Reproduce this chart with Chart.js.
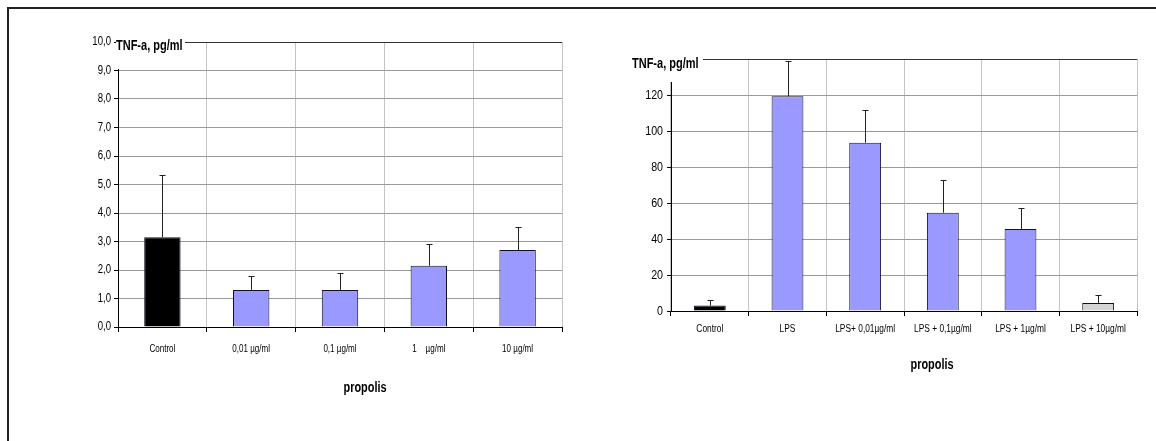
<!DOCTYPE html>
<html>
<head>
<meta charset="utf-8">
<script src="https://cdn.jsdelivr.net/npm/chart.js@4.4.0/dist/chart.umd.min.js"></script>
<style>
  body { margin: 0; background: #fff; width: 1156px; height: 441px; overflow: hidden; position: relative; }
  .frame { position: absolute; left: 7px; top: 7px; width: 1200px; height: 500px; border: 2px solid #222; box-sizing: border-box; }
  .box { position: absolute; }
</style>
</head>
<body>
<div class="frame"></div>
<div class="box" style="left:40px; top:20px; width:543px; height:390px;"><canvas id="leftChart"></canvas></div>
<div class="box" style="left:610px; top:30px; width:542px; height:350px;"><canvas id="rightChart"></canvas></div>
<script>
const FONT = "'Liberation Sans', Arial, sans-serif";

// ---- data ----
const leftLabels = ["Control", "0,01 µg/ml", "0,1 µg/ml", "1    µg/ml", "10 µg/ml"];
const leftMeans = [3.15, 1.3, 1.3, 2.15, 2.7];
const leftSD = [2.18, 0.5, 0.6, 0.75, 0.8];
const leftColors = ["#000000", "#9999ff", "#9999ff", "#9999ff", "#9999ff"];

const rightLabels = ["Control", "LPS", "LPS+ 0,01µg/ml", "LPS + 0,1µg/ml", "LPS + 1µg/ml", "LPS + 10µg/ml"];
const rightMeans = [3, 119.3, 93.5, 54.6, 45.6, 4.5];
const rightSD = [3, 19.6, 18.2, 18.2, 11.8, 4.2];
const rightColors = ["#000000", "#9999ff", "#9999ff", "#9999ff", "#9999ff", "#d4d4d4"];

const yTitle = "TNF-a, pg/ml";
const xTitle = "propolis";

// draw text squeezed horizontally (the original uses a very narrow face)
function squeeze(ctx, text, x, y, align, k) {
  ctx.save();
  ctx.translate(x, y);
  ctx.scale(k, 1);
  ctx.textAlign = align;
  ctx.fillText(text, 0, 0);
  ctx.restore();
}

//! ------------------------ plugins ------------------------
const errorBars = {
  id: "errorBars",
  afterDatasetsDraw(chart, args, opts) {
    const ctx = chart.ctx;
    const meta = chart.getDatasetMeta(0);
    const y = chart.scales.y;
    ctx.save();
    ctx.strokeStyle = "#222";
    ctx.lineWidth = 1;
    meta.data.forEach((bar, i) => {
      const top = Math.round(y.getPixelForValue(opts.means[i] + opts.sd[i])) + 0.5;
      const x = Math.round(bar.x) + 0.5;
      ctx.beginPath();
      ctx.moveTo(x, bar.y);
      ctx.lineTo(x, top);
      ctx.moveTo(x - 3, top);
      ctx.lineTo(x + 3, top);
      ctx.stroke();
    });
    ctx.restore();
  },
};

const texts = {
  id: "texts",
  afterDraw(chart, args, opts) {
    const ctx = chart.ctx;
    const a = chart.chartArea;
    const xs = chart.scales.x;
    const ys = chart.scales.y;
    ctx.save();
    // white box behind the axis title, it hides the top of the axis
    ctx.fillStyle = "#fff";
    ctx.fillRect(a.left + opts.titleDx, a.top - 12, opts.boxW, opts.boxH);
    ctx.fillStyle = "#000";
    ctx.textBaseline = "middle";

    ctx.font = opts.yFont + "px " + FONT;
    ys.ticks.forEach((t) => {
      if (t.value === ys.max && !opts.showTop) return;
      squeeze(ctx, opts.fmt(t.value), a.left - opts.yLabGap, ys.getPixelForValue(t.value), "right", opts.yK);
    });

    ctx.font = "11px " + FONT;
    chart.data.labels.forEach((lab, i) => {
      squeeze(ctx, lab, xs.getPixelForTick(i), a.bottom + opts.xLabDy, "center", opts.xK);
    });

    ctx.font = "bold 14px " + FONT;
    squeeze(ctx, yTitle, a.left + opts.titleDx, a.top + opts.titleDy, "left", 0.785);
    squeeze(ctx, xTitle, (a.left + a.right) / 2 + opts.xDx, a.bottom + opts.xDy, "center", 0.78);
    ctx.restore();
  },
};

//! ------------------------ chart ------------------------
function makeChart(id, cats, means, sd, colors, cfg) {
  return new Chart(document.getElementById(id), {
    type: "bar",
    data: {
      labels: cats,
      datasets: [{
        data: means,
        backgroundColor: colors,
        borderColor: "#10102a",
        borderWidth: 1,
        barPercentage: cfg.barPct,
        categoryPercentage: 1,
      }],
    },
    options: {
      responsive: true,
      maintainAspectRatio: false,
      animation: false,
      events: [],
      layout: { padding: cfg.padding },
      plugins: {
        legend: { display: false },
        tooltip: { enabled: false },
        errorBars: { means: means, sd: sd },
        texts: cfg.texts,
      },
      scales: {
        x: {
          afterFit: (s) => { s.height = cfg.xHeight; },
          grid: {
            offset: true,
            color: (c) => (c.index === cats.length ? "#333" : "#c4c4c4"),
            lineWidth: 1,
            tickLength: 5,
            tickColor: "#000",
          },
          border: { color: "#000", width: 1 },
          ticks: { display: false, autoSkip: false },
        },
        y: {
          min: 0,
          max: cfg.max,
          afterFit: (s) => { s.width = cfg.yWidth; },
          grid: {
            color: (c) => (c.tick && c.tick.value === cfg.max ? "#333" : "#9a9a9a"),
            lineWidth: 1,
            tickLength: 4,
            tickColor: "#000",
          },
          border: { color: "#000", width: 1 },
          ticks: { stepSize: cfg.step, display: false },
        },
      },
    },
    plugins: [errorBars, texts],
  });
}

makeChart("leftChart", leftLabels, leftMeans, leftSD, leftColors, {
  max: 10,
  step: 1,
  barPct: 0.41,
  yWidth: 78,
  xHeight: 83,
  padding: { top: 22, right: 21, left: 0, bottom: 0 },
  texts: {
    fmt: (v) => v.toFixed(1).replace(".", ","),
    showTop: true, yFont: 12, yK: 0.8, yLabGap: 7,
    boxW: 69, boxH: 39, titleDx: -2, titleDy: 4,
    xLabDy: 22, xK: 0.73, xDx: 25, xDy: 61,
  },
});

makeChart("rightChart", rightLabels, rightMeans, rightSD, rightColors, {
  max: 140,
  step: 20,
  barPct: 0.41,
  yWidth: 61,
  xHeight: 69,
  padding: { top: 29, right: 15, left: 0, bottom: 0 },
  texts: {
    fmt: (v) => String(v),
    showTop: false, yFont: 13, yK: 0.82, yLabGap: 8,
    boxW: 71, boxH: 35, titleDx: -39, titleDy: 5,
    xLabDy: 18, xK: 0.76, xDx: 28, xDy: 54,
  },
});
</script>
</body>
</html>
